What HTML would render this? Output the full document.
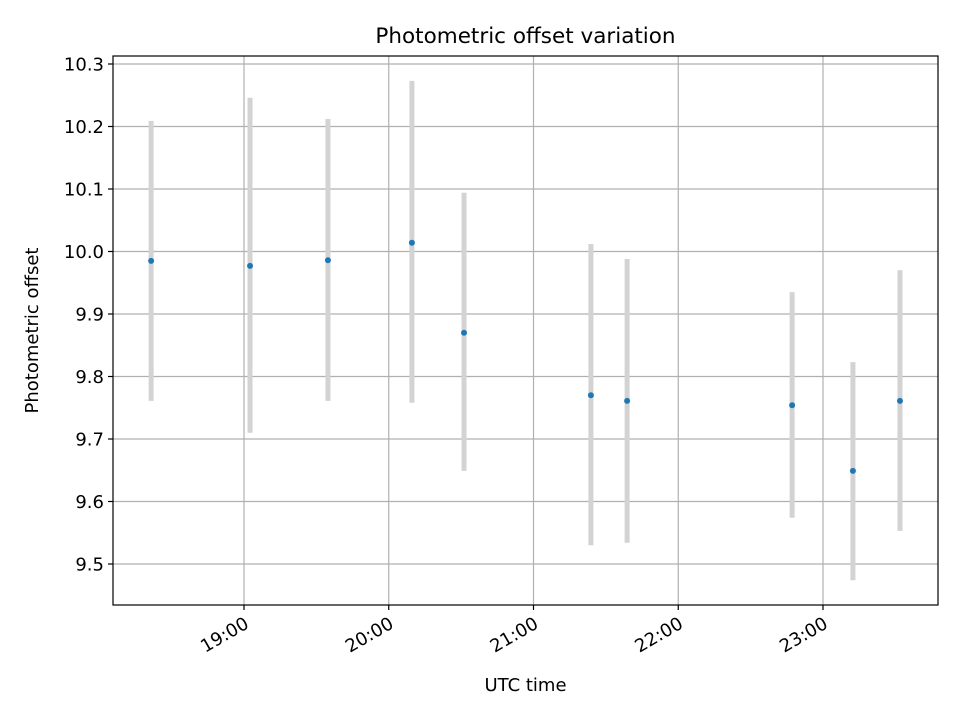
<!DOCTYPE html>
<html><head><meta charset="utf-8">
<style>
html,body{margin:0;padding:0;background:#fff;}
svg{display:block;font-family:"DejaVu Sans","Liberation Sans",sans-serif;}
</style></head>
<body>
<svg id="chart" width="960" height="720" viewBox="0 0 960 720" xmlns="http://www.w3.org/2000/svg"></svg>
<script>
// minutes after 18:00 UTC
const times = [21.5, 62.5, 94.8, 129.6, 151.2, 203.8, 218.8, 287.2, 312.4, 331.9];
const offsets = [9.985, 9.977, 9.986, 10.014, 9.870, 9.770, 9.761, 9.754, 9.649, 9.761];
const errHigh = [10.209, 10.246, 10.212, 10.273, 10.094, 10.012, 9.988, 9.935, 9.823, 9.970];
const errLow = [9.761, 9.710, 9.761, 9.758, 9.649, 9.530, 9.534, 9.574, 9.474, 9.553];
const yTicks = [9.5, 9.6, 9.7, 9.8, 9.9, 10.0, 10.1, 10.2, 10.3];
const xTicks = [60, 120, 180, 240, 300];
const xTickLabels = ["19:00", "20:00", "21:00", "22:00", "23:00"];

const L=113, R=938, T=56, B=605;
const NS="http://www.w3.org/2000/svg";
const svg=document.getElementById('chart');
function x(m){return 244+(m-60)*144.75/60;}
function y(v){return 564-(v-9.5)*625;}
function el(tag,attrs,parent){const e=document.createElementNS(NS,tag);for(const k in attrs)e.setAttribute(k,attrs[k]);(parent||svg).appendChild(e);return e;}

const grid=el('g',{});


xTicks.forEach((t,i)=>{
  const l=el('line',{x1:x(t),x2:x(t),y1:T,y2:B,stroke:'#b0b0b0','stroke-width':1.2},grid);
  
  
});
yTicks.forEach(t=>{
  const l=el('line',{x1:L,x2:R,y1:y(t),y2:y(t),stroke:'#b0b0b0','stroke-width':1.2},grid);
  
  
});

times.forEach((t,i)=>{
  const b=el('line',{x1:x(t),x2:x(t),y1:y(errHigh[i]),y2:y(errLow[i]),stroke:'#d3d3d3','stroke-width':5});
  
  
});
times.forEach((t,i)=>{
  const c=el('circle',{cx:x(t),cy:y(offsets[i]),r:3,fill:'#1f77b4'});
  
  
});

const frame=el('rect',{x:L,y:T,width:R-L,height:B-T,fill:'none',stroke:'#000','stroke-width':1.2});



yTicks.forEach(t=>{
  const tk=el('line',{x1:L-5,x2:L,y1:y(t),y2:y(t),stroke:'#000','stroke-width':1.2});
  
  
  const tx=el('text',{x:L-9,y:y(t)+6.5,'text-anchor':'end','font-size':18,fill:'#000'});
  tx.textContent=t.toFixed(1);
  
  
});
xTicks.forEach((t,i)=>{
  const tk=el('line',{x1:x(t),x2:x(t),y1:B,y2:B+5,stroke:'#000','stroke-width':1.2});
  
  
  const ax=x(t)+6, ay=B+22;
  const tx=el('text',{x:ax,y:ay,'text-anchor':'end','font-size':18,fill:'#000',transform:`rotate(-30 ${ax} ${ay})`});
  tx.textContent=xTickLabels[i];
  
  
});

const title=el('text',{x:(L+R)/2,y:43,'text-anchor':'middle','font-size':21.5,fill:'#000'});
title.textContent='Photometric offset variation';


const xl=el('text',{x:(L+R)/2,y:691,'text-anchor':'middle','font-size':18,fill:'#000'});
xl.textContent='UTC time';


const yl=el('text',{x:38,y:(T+B)/2,'text-anchor':'middle','font-size':18,fill:'#000',transform:`rotate(-90 38 ${(T+B)/2})`});
yl.textContent='Photometric offset';


</script>
</body></html>
